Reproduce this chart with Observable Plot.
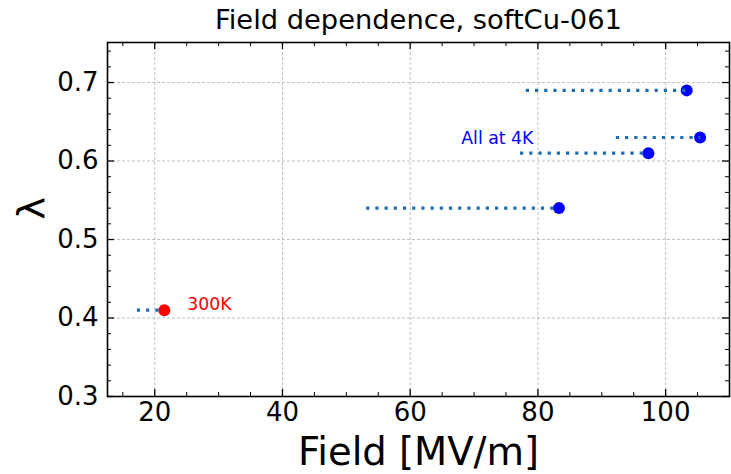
<!DOCTYPE html>
<html>
<head>
<meta charset="utf-8">
<script src="https://cdn.jsdelivr.net/npm/d3@7"></script>
<script src="https://cdn.jsdelivr.net/npm/@observablehq/plot@0.6"></script>
<style>
  html, body { margin: 0; padding: 0; background: #fff; }
  svg { font-family: "DejaVu Sans", sans-serif; }
</style>
</head>
<body>
<div id="chart"></div>
<script>
// Data
const field    = [21.5, 83.3, 97.3, 105.4, 103.3];
const fieldLow = [17.2, 53.1, 77.2, 92.2, 78.1];
const lambda   = [0.41, 0.54, 0.61, 0.63, 0.69];
const temp     = ["300K", "4K", "4K", "4K", "4K"];

const xMajor = [20, 40, 60, 80, 100];
const xMinor = [15, 25, 30, 35, 45, 50, 55, 65, 70, 75, 85, 90, 95, 105];
const yMajor = [0.3, 0.4, 0.5, 0.6, 0.7];
const yMinor = [0.32, 0.34, 0.36, 0.38, 0.42, 0.44, 0.46, 0.48, 0.52, 0.54, 0.56, 0.58, 0.62, 0.64, 0.66, 0.68, 0.72, 0.74];

const annoText = ["All at 4K", "300K"];
const annoX = [68.0, 25.1];
const annoY = [0.629, 0.417];
const annoColor = ["blue", "red"];

const title = "Field dependence, softCu-061";
const xLabel = "Field [MV/m]";
const yLabel = "λ";

const rows = field.map((f, i) => ({f, lo: fieldLow[i], l: lambda[i], t: temp[i]}));
const annos = annoText.map((t, i) => ({t, x: annoX[i], y: annoY[i], c: annoColor[i]}));

const W = 731, H = 474;
const mL = 107, mR = 2, mT = 42, mB = 78;
const pw = W - mL - mR, ph = H - mT - mB;

const chart = Plot.plot({
  width: W, height: H,
  marginLeft: mL, marginRight: mR, marginTop: mT, marginBottom: mB,
  x: {domain: [12.6, 110]},
  y: {domain: [0.3, 0.751]},
  style: {background: "#fff", fontFamily: "DejaVu Sans, sans-serif"},
  marks: [
    Plot.gridX(xMajor, {stroke: "#b0b0b0", strokeOpacity: 1, strokeWidth: 0.8, strokeDasharray: "3,2"}),
    Plot.gridY(yMajor, {stroke: "#b0b0b0", strokeOpacity: 1, strokeWidth: 0.8, strokeDasharray: "3,2"}),
    // inward ticks, all four sides
    Plot.tickX(xMajor, {x: d => d, insetTop: ph - 7, stroke: "#000", strokeWidth: 1.3}),
    Plot.tickX(xMajor, {x: d => d, insetBottom: ph - 7, stroke: "#000", strokeWidth: 1.3}),
    Plot.tickX(xMinor, {x: d => d, insetTop: ph - 4, stroke: "#000", strokeWidth: 1}),
    Plot.tickX(xMinor, {x: d => d, insetBottom: ph - 4, stroke: "#000", strokeWidth: 1}),
    Plot.tickY(yMajor, {y: d => d, insetRight: pw - 7, stroke: "#000", strokeWidth: 1.3}),
    Plot.tickY(yMajor, {y: d => d, insetLeft: pw - 7, stroke: "#000", strokeWidth: 1.3}),
    Plot.tickY(yMinor, {y: d => d, insetRight: pw - 4, stroke: "#000", strokeWidth: 1}),
    Plot.tickY(yMinor, {y: d => d, insetLeft: pw - 4, stroke: "#000", strokeWidth: 1}),
    Plot.axisX(xMajor, {tickSize: 0, tickPadding: 6, fontSize: 26, label: null, fill: "#000"}),
    Plot.axisY(yMajor, {tickSize: 0, tickPadding: 9, fontSize: 26, label: null, tickFormat: d3.format(".1f"), fill: "#000"}),
    Plot.frame({stroke: "#000", strokeWidth: 1.6}),
    Plot.dot(rows, {x: "f", y: "l", r: 6, fill: d => d.t === "300K" ? "red" : "blue", stroke: null}),
    Plot.link(rows, {x1: "lo", x2: "f", y1: "l", y2: "l", stroke: "#1f6db2", strokeWidth: 3.2, strokeDasharray: "3.2,6", strokeLinecap: "butt"}),
    Plot.text(annos, {x: "x", y: "y", text: "t", fill: "c", fontSize: 17.3, textAnchor: "start", lineAnchor: "middle"}),
    Plot.text([title], {frameAnchor: "top", text: d => d, dy: -22, fontSize: 27.3, lineAnchor: "middle", fill: "#000"}),
    Plot.text([xLabel], {frameAnchor: "bottom", text: d => d, dy: 56, fontSize: 38.5, lineAnchor: "middle", fill: "#000"}),
    Plot.text([yLabel], {frameAnchor: "left", text: d => d, dx: -76, rotate: -90, fontSize: 38, lineAnchor: "middle", fill: "#000"})
  ]
});
document.getElementById("chart").appendChild(chart);
</script>
</body>
</html>
